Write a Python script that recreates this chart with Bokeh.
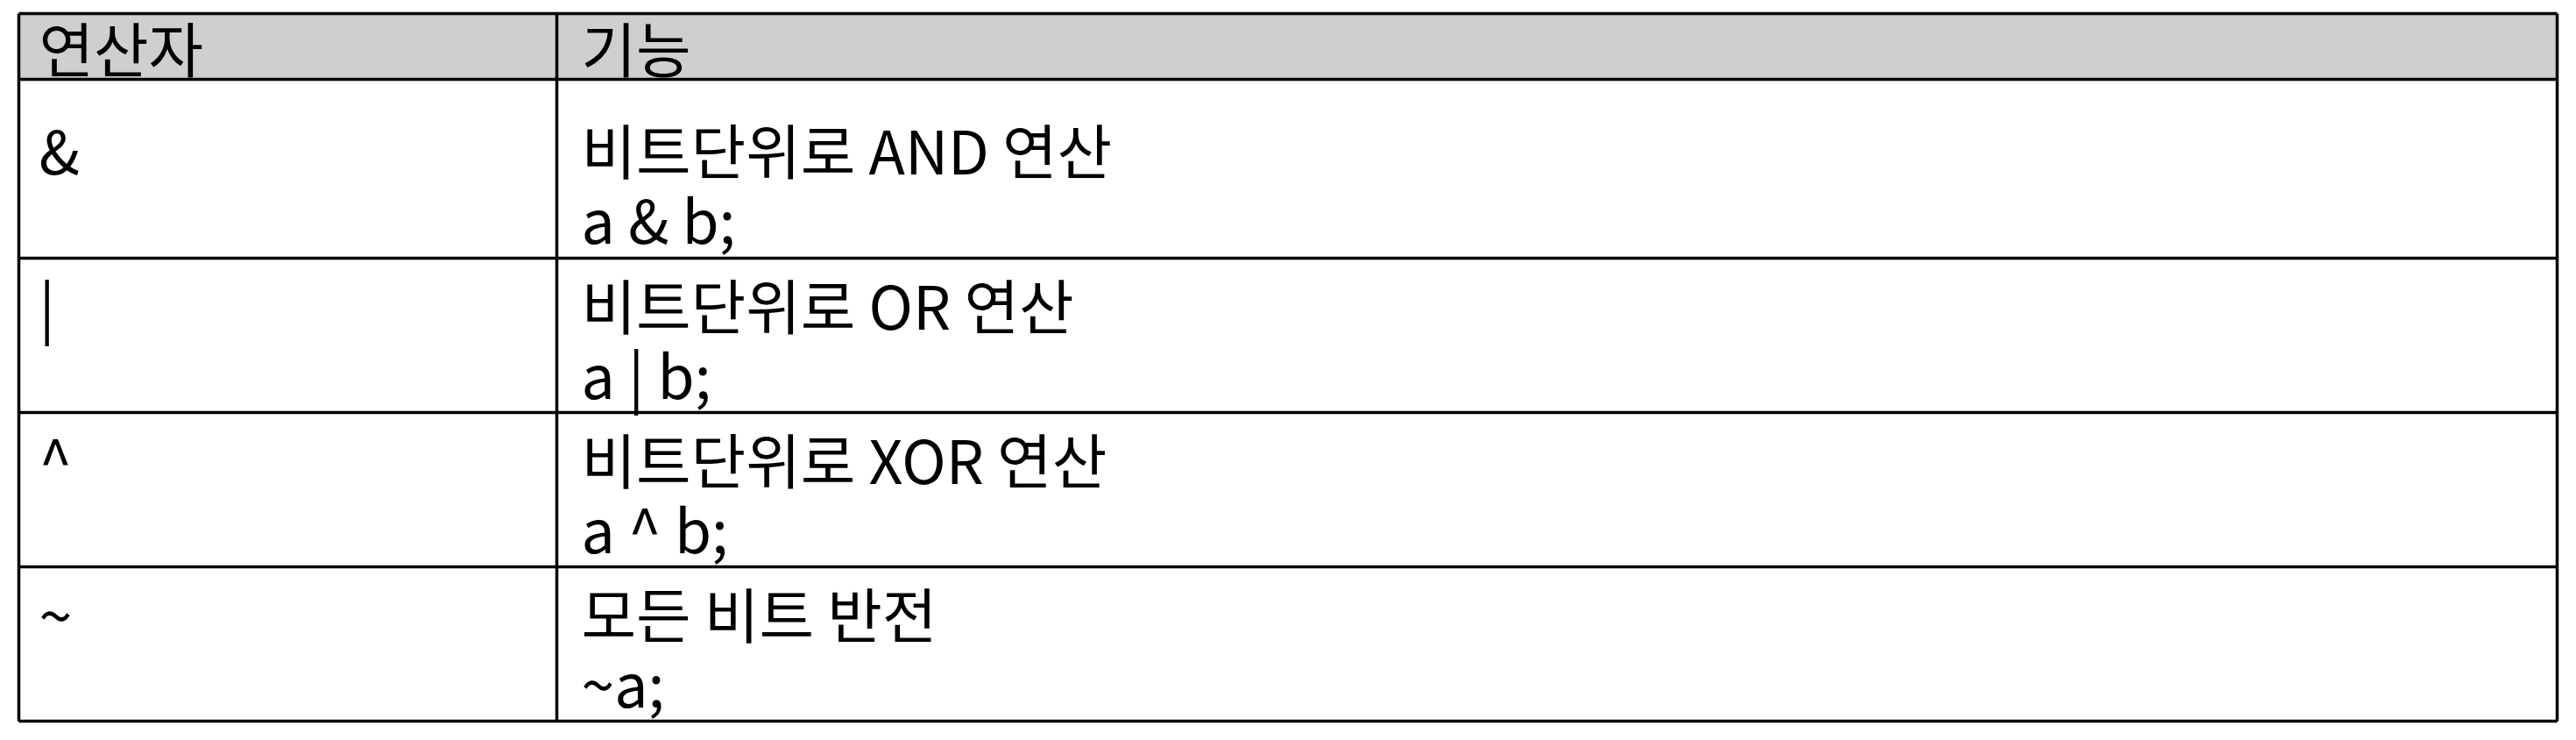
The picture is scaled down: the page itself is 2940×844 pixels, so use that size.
from bokeh.plotting import figure
from bokeh.models import ColumnDataSource
from bokeh.core.properties import value
from bokeh.embed import file_html
from bokeh.resources import INLINE

# === Table content === #
headers = ["연산자", "기능"]
operators = ["&", "|", "^", "~"]
descriptions = ["비트단위로 AND 연산", "비트단위로 OR 연산", "비트단위로 XOR 연산", "모든 비트 반전"]
examples = ["a & b;", "a | b;", "a ^ b;", "~a;"]

W, H = 2924, 828
LEFT, RIGHT, TOP = 21, 2918, 15
HEAD_BOTTOM = 90
ROW_HEIGHTS = [204, 176, 176, 176]
FIRST_PAD = [79, 52, 52, 52]
DIVIDER = 635
TX1, TX2 = 44, 663
FONT = value("Noto Sans CJK KR")
SIZE = "68px"

p = figure(width=W, height=H, x_range=(0, W), y_range=(H, 0),
           output_backend="svg", toolbar_location=None, min_border=0)
p.axis.visible = False
p.grid.visible = False
p.outline_line_color = None

row_tops = []
y = HEAD_BOTTOM
for h in ROW_HEIGHTS:
    row_tops.append(y)
    y += h
bottom = y

# header background
p.quad(left=LEFT, right=RIGHT, top=TOP, bottom=HEAD_BOTTOM,
       fill_color="#d0cecf", line_color=None)

# borders
ys = [TOP] + row_tops + [bottom]
p.segment(x0=[LEFT] * len(ys), x1=[RIGHT] * len(ys), y0=ys, y1=ys,
          line_color="black", line_width=3.5)
p.segment(x0=[LEFT, DIVIDER, RIGHT], x1=[LEFT, DIVIDER, RIGHT],
          y0=[TOP] * 3, y1=[bottom] * 3, line_color="black", line_width=3.5)

# header text
p.text(x=[TX1, TX2], y=[(TOP + HEAD_BOTTOM) / 2] * 2, text=headers,
       text_font=FONT, text_font_size=SIZE, text_baseline="middle",
       text_color="black")

# body text
src = ColumnDataSource(dict(
    y1=[t + d for t, d in zip(row_tops, FIRST_PAD)],
    y2=[t + d + 79 for t, d in zip(row_tops, FIRST_PAD)],
    op=operators, desc=descriptions, ex=examples))
p.text(x=TX1, y="y1", text="op", source=src, text_font=FONT,
       text_font_size=SIZE, text_baseline="middle", text_color="black")
p.text(x=TX2, y="y1", text="desc", source=src, text_font=FONT,
       text_font_size=SIZE, text_baseline="middle", text_color="black")
p.text(x=TX2, y="y2", text="ex", source=src, text_font=FONT,
       text_font_size=SIZE, text_baseline="middle", text_color="black")

open("out.html", "w").write(file_html(p, INLINE))
